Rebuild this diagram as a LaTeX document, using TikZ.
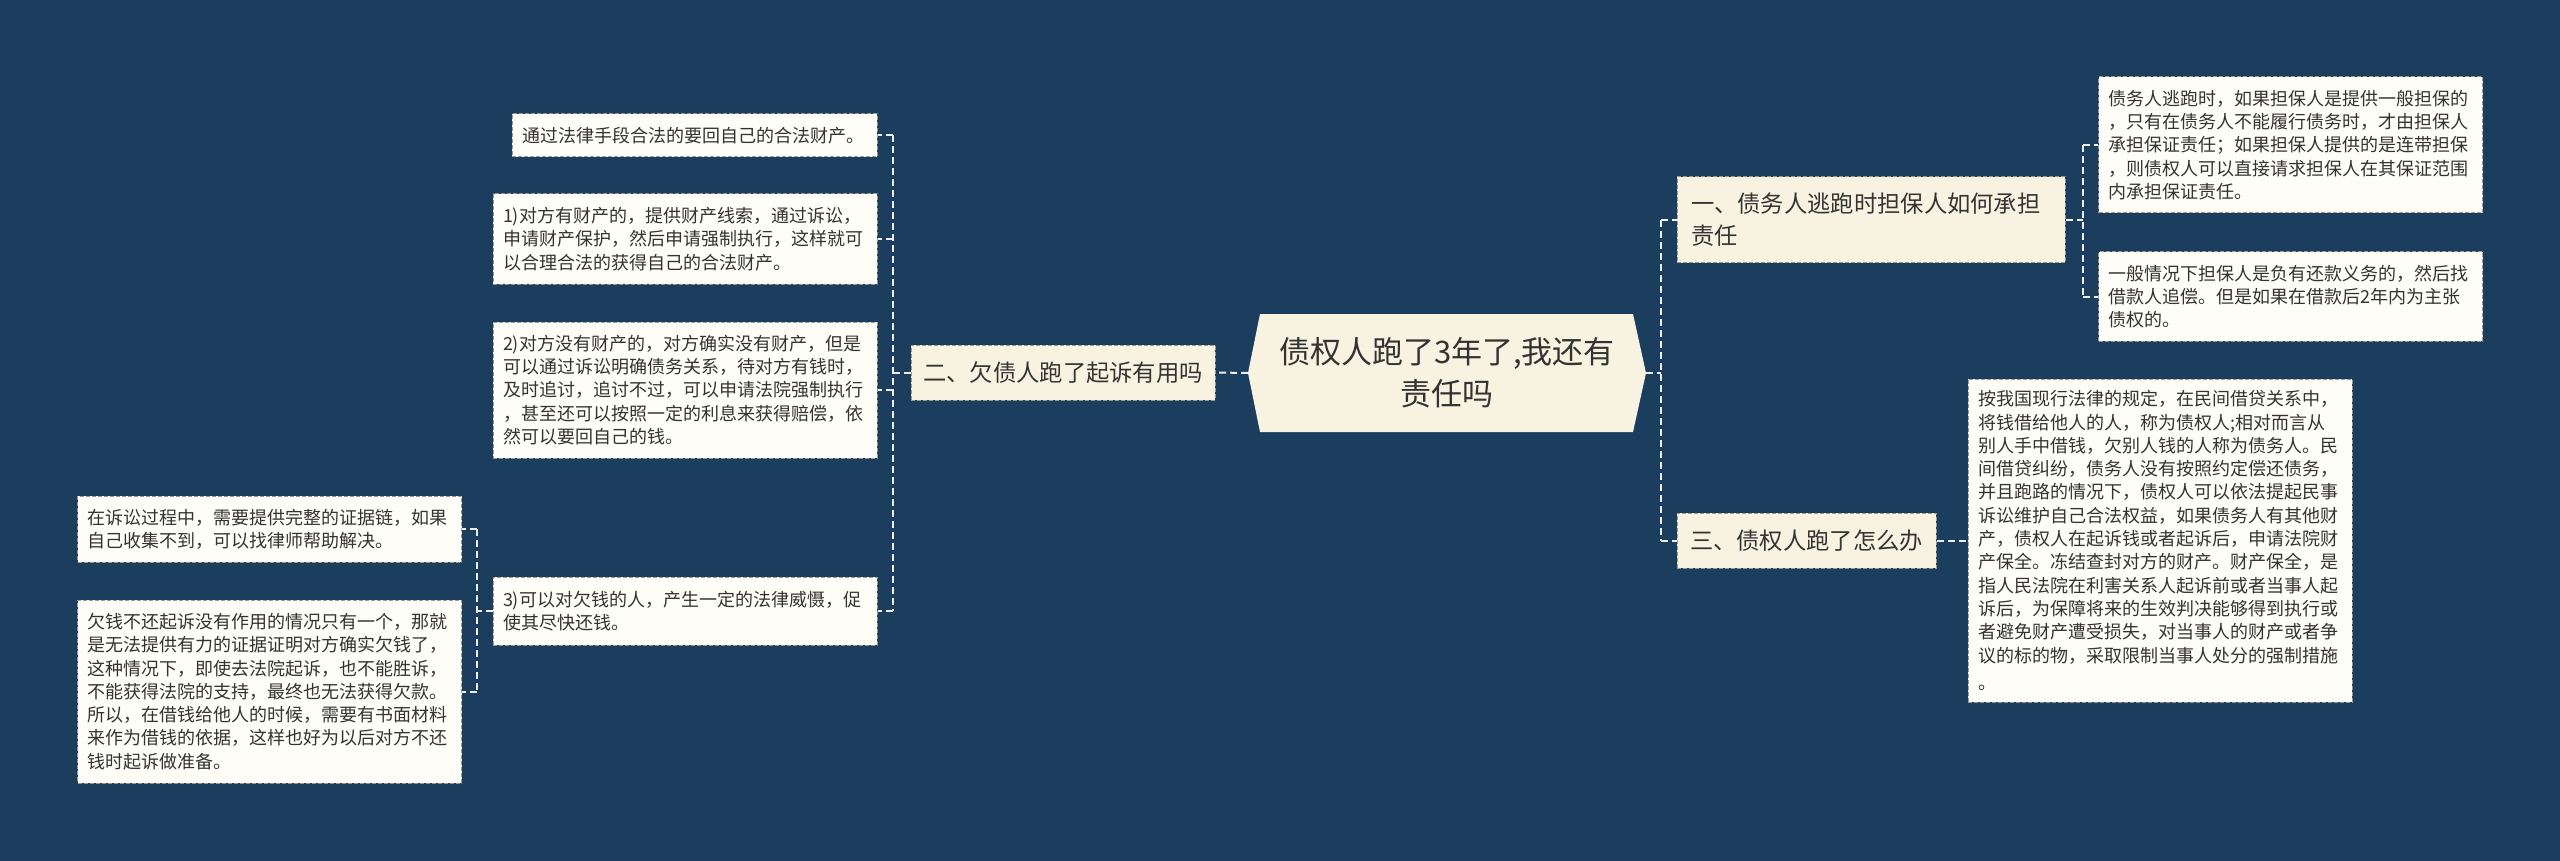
\documentclass[tikz,border=0pt]{standalone}
\usepackage{fontspec}
\newfontfamily\cjkf{Noto Sans CJK SC}
\usetikzlibrary{calc}
\definecolor{bgc}{HTML}{1B3D5E}
\definecolor{leaffill}{HTML}{FEFDF7}
\definecolor{brfill}{HTML}{F8F3E0}
\definecolor{txt}{HTML}{333333}
\definecolor{linec}{HTML}{EEEEEE}
\definecolor{bord}{HTML}{9A9A90}
\begin{document}
\begin{tikzpicture}[x=1pt,y=-1pt,
 leafbox/.style={draw=bord, line width=1pt, dash pattern=on 4pt off 2pt, fill=leaffill, text=txt,
   font={\cjkf\fontsize{18}{23.3}\selectfont}, align=left, inner xsep=10pt, inner ysep=0pt, text width=364pt},
 branchbox/.style={draw=bord, line width=1pt, dash pattern=on 4pt off 2pt, fill=brfill, text=txt,
   font={\cjkf\fontsize{23.3}{31.7}\selectfont}, align=left, inner xsep=12pt, inner ysep=0pt},
 rootbox/.style={text=txt, font={\cjkf\fontsize{31}{42}\selectfont}, align=center, inner sep=0pt},
 conn/.style={draw=linec, line width=2pt, dash pattern=on 7pt off 4pt},
]
\fill[bgc] (0,0) rectangle (2560,861);
\useasboundingbox (0,0) rectangle (2560,861);

% central topic
\fill[brfill] (1260,314) -- (1633,314) -- (1646,373) -- (1633,432) -- (1260,432) -- (1248,373) -- cycle;
\coordinate (rootW) at (1248,373);
\coordinate (rootE) at (1646,373);
\node[rootbox] (root) at (1447,373) {债权人跑了3年了,我还有\\责任吗};

% guide coordinates for elbows
\coordinate (vR) at (1661,0);
\coordinate (vR1) at (2083,0);
\coordinate (vL) at (893,0);
\coordinate (vLL) at (477,0);

% branches
\node[branchbox, minimum width=388pt, minimum height=86pt, text width=360pt, inner xsep=14pt] (r1) at (1871,220)
  {一、债务人逃跑时担保人如何承担\\责任};
\node[branchbox, minimum width=304pt, minimum height=55pt] (r2) at (1063,372.5) {二、欠债人跑了起诉有用吗};
\node[branchbox, minimum width=259pt, minimum height=55pt] (r3) at (1806.5,540.5) {三、债权人跑了怎么办};

% left leaves
\node[leafbox, text width=345pt, minimum height=43pt] (lA) at (694.5,135.5)
  {通过法律手段合法的要回自己的合法财产。};
\node[leafbox, minimum height=90pt] (lB) at (685,239)
  {1)对方有财产的，提供财产线索，通过诉讼，\\申请财产保护，然后申请强制执行，这样就可\\以合理合法的获得自己的合法财产。};
\node[leafbox, minimum height=136pt] (lC) at (685,390)
  {2)对方没有财产的，对方确实没有财产，但是\\可以通过诉讼明确债务关系，待对方有钱时，\\及时追讨，追讨不过，可以申请法院强制执行\\，甚至还可以按照一定的利息来获得赔偿，依\\然可以要回自己的钱。};
\node[leafbox, minimum height=68pt] (lD) at (685,611)
  {3)可以对欠钱的人，产生一定的法律威慑，促\\使其尽快还钱。};
\node[leafbox, minimum height=66pt] (lE) at (269.5,529)
  {在诉讼过程中，需要提供完整的证据链，如果\\自己收集不到，可以找律师帮助解决。};
\node[leafbox, minimum height=183pt] (lF) at (269.5,691.5)
  {欠钱不还起诉没有作用的情况只有一个，那就\\是无法提供有力的证据证明对方确实欠钱了，\\这种情况下，即使去法院起诉，也不能胜诉，\\不能获得法院的支持，最终也无法获得欠款。\\所以，在借钱给他人的时候，需要有书面材料\\来作为借钱的依据，这样也好为以后对方不还\\钱时起诉做准备。};

% right leaves
\node[leafbox, minimum height=136pt] (lG) at (2290.5,145)
  {债务人逃跑时，如果担保人是提供一般担保的\\，只有在债务人不能履行债务时，才由担保人\\承担保证责任；如果担保人提供的是连带担保\\，则债权人可以直接请求担保人在其保证范围\\内承担保证责任。};
\node[leafbox, minimum height=89pt] (lH) at (2290.5,296.5)
  {一般情况下担保人是负有还款义务的，然后找\\借款人追偿。但是如果在借款后2年内为主张\\债权的。};
\node[leafbox, minimum height=323pt] (lI) at (2160,540.5)
  {按我国现行法律的规定，在民间借贷关系中，\\将钱借给他人的人，称为债权人;相对而言从\\别人手中借钱，欠别人钱的人称为债务人。民\\间借贷纠纷，债务人没有按照约定偿还债务，\\并且跑路的情况下，债权人可以依法提起民事\\诉讼维护自己合法权益，如果债务人有其他财\\产，债权人在起诉钱或者起诉后，申请法院财\\产保全。冻结查封对方的财产。财产保全，是\\指人民法院在利害关系人起诉前或者当事人起\\诉后，为保障将来的生效判决能够得到执行或\\者避免财产遭受损失，对当事人的财产或者争\\议的标的物，采取限制当事人处分的强制措施\\[4pt]。};

% connectors: root
\draw[conn] (rootW) -- (r2.east);
\draw[conn] (rootE) -- (rootE -| vR);
\draw[conn] (r1.west -| vR) -- (r3.west -| vR);
\draw[conn] (r1.west -| vR) -- (r1.west);
\draw[conn] (r3.west -| vR) -- (r3.west);

% connectors: branch two
\draw[conn] (r2.west) -- (r2.west -| vL);
\draw[conn] (lA.east -| vL) -- (lD.east -| vL);
\draw[conn] (lA.east -| vL) -- (lA.east);
\draw[conn] (lB.east -| vL) -- (lB.east);
\draw[conn] (lC.east -| vL) -- (lC.east);
\draw[conn] (lD.east -| vL) -- (lD.east);

% connectors: leaf 3)
\draw[conn] (lD.west) -- (lD.west -| vLL);
\draw[conn] (lE.east -| vLL) -- (lF.east -| vLL);
\draw[conn] (lE.east -| vLL) -- (lE.east);
\draw[conn] (lF.east -| vLL) -- (lF.east);

% connectors: branch one
\draw[conn] (r1.east) -- (r1.east -| vR1);
\draw[conn] (lG.west -| vR1) -- (lH.west -| vR1);
\draw[conn] (lG.west -| vR1) -- (lG.west);
\draw[conn] (lH.west -| vR1) -- (lH.west);

% connector: branch three
\draw[conn] (r3.east) -- (lI.west);
\end{tikzpicture}
\end{document}
